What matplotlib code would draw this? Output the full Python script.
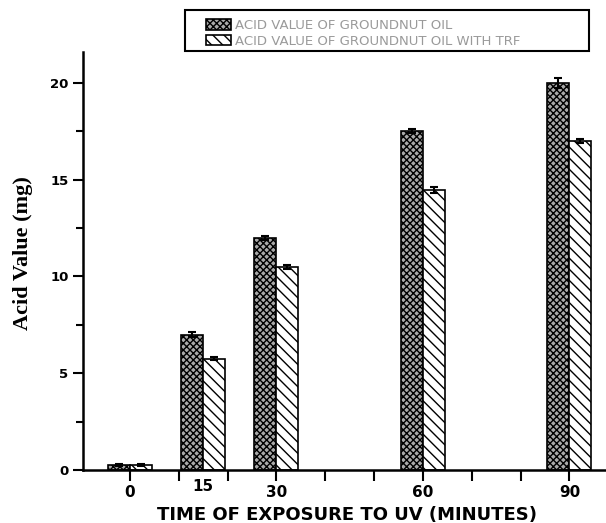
import matplotlib as mpl
mpl.use('Agg')
import matplotlib.pyplot as plt
from matplotlib.patches import Rectangle
import numpy as np

minutes = [0, 15, 30, 60, 90]
acid_oil = [0.25, 7.0, 12.0, 17.5, 20.0]
acid_oil_err = [0.05, 0.12, 0.1, 0.1, 0.25]
acid_trf = [0.25, 5.75, 10.5, 14.45, 17.0]
acid_trf_err = [0.05, 0.08, 0.1, 0.15, 0.1]
labels = ['ACID VALUE OF GROUNDNUT OIL', 'ACID VALUE OF GROUNDNUT OIL WITH TRF']

plt.rcParams['hatch.linewidth'] = 1.0

fig = plt.figure(figsize=(6.06, 5.23), dpi=100)
ax = fig.add_axes([0.137, 0.101, 0.863, 0.80])

x = np.array(minutes)
w = 4.5
b1 = ax.bar(x - w / 2, acid_oil, w, yerr=acid_oil_err, color='#aaaaaa', edgecolor='black',
            hatch='xxxxx', linewidth=1.2, capsize=3,
            error_kw=dict(elinewidth=1.5, capthick=1.5, ecolor='black'), label=labels[0])
b2 = ax.bar(x + w / 2, acid_trf, w, yerr=acid_trf_err, color='white', edgecolor='black',
            hatch='\\\\\\', linewidth=1.2, capsize=3,
            error_kw=dict(elinewidth=1.5, capthick=1.5, ecolor='black'), label=labels[1])

ax.set_xlim(-9.6, 97.5)
ax.set_ylim(0, 21.6)

ax.spines['top'].set_visible(False)
ax.spines['right'].set_visible(False)
ax.spines['left'].set_linewidth(1.8)
ax.spines['bottom'].set_linewidth(1.8)

ax.set_xticks(range(0, 100, 10))
ax.set_xticklabels(['0', '', '', '30', '', '', '60', '', '', '90'])
ax.text(15, -0.45, '15', ha='center', va='top', fontsize=11, fontweight='bold')
ax.set_yticks([0, 5, 10, 15, 20])
ax.set_yticks([2.5, 7.5, 12.5, 17.5], minor=True)
ax.tick_params(axis='x', length=8, width=1.5, pad=3, labelsize=11)
ax.tick_params(axis='y', which='major', length=7, width=1.5, labelsize=9.5)
ax.tick_params(axis='y', which='minor', length=5, width=1.5)
for t in ax.get_xticklabels() + ax.get_yticklabels():
    t.set_fontweight('bold')

ax.set_ylabel('Acid Value (mg)', fontsize=16, fontweight='bold', family='Liberation Serif')
ax.set_xlabel('TIME OF EXPOSURE TO UV (MINUTES)', fontsize=13, fontweight='bold')
ax.xaxis.set_label_coords(0.505, -0.085)
ax.yaxis.set_label_coords(-0.095, 0.52)

# legend frame drawn separately so the entries can sit inset from the left edge
fig.patches.append(Rectangle((185 / 606, 1 - 51 / 523), 404 / 606, 41 / 523, transform=fig.transFigure,
                             facecolor='white', edgecolor='black', linewidth=1.5))
leg = fig.legend(loc='upper left', bbox_to_anchor=(199 / 606, 1 - 12 / 523), fontsize=9.5,
                 frameon=False, handlelength=1.9, handleheight=0.9, borderpad=0,
                 labelspacing=0.22, handletextpad=0.35)
for t in leg.get_texts():
    t.set_color('#9a9a9a')

fig.savefig('out.png', dpi=100)
